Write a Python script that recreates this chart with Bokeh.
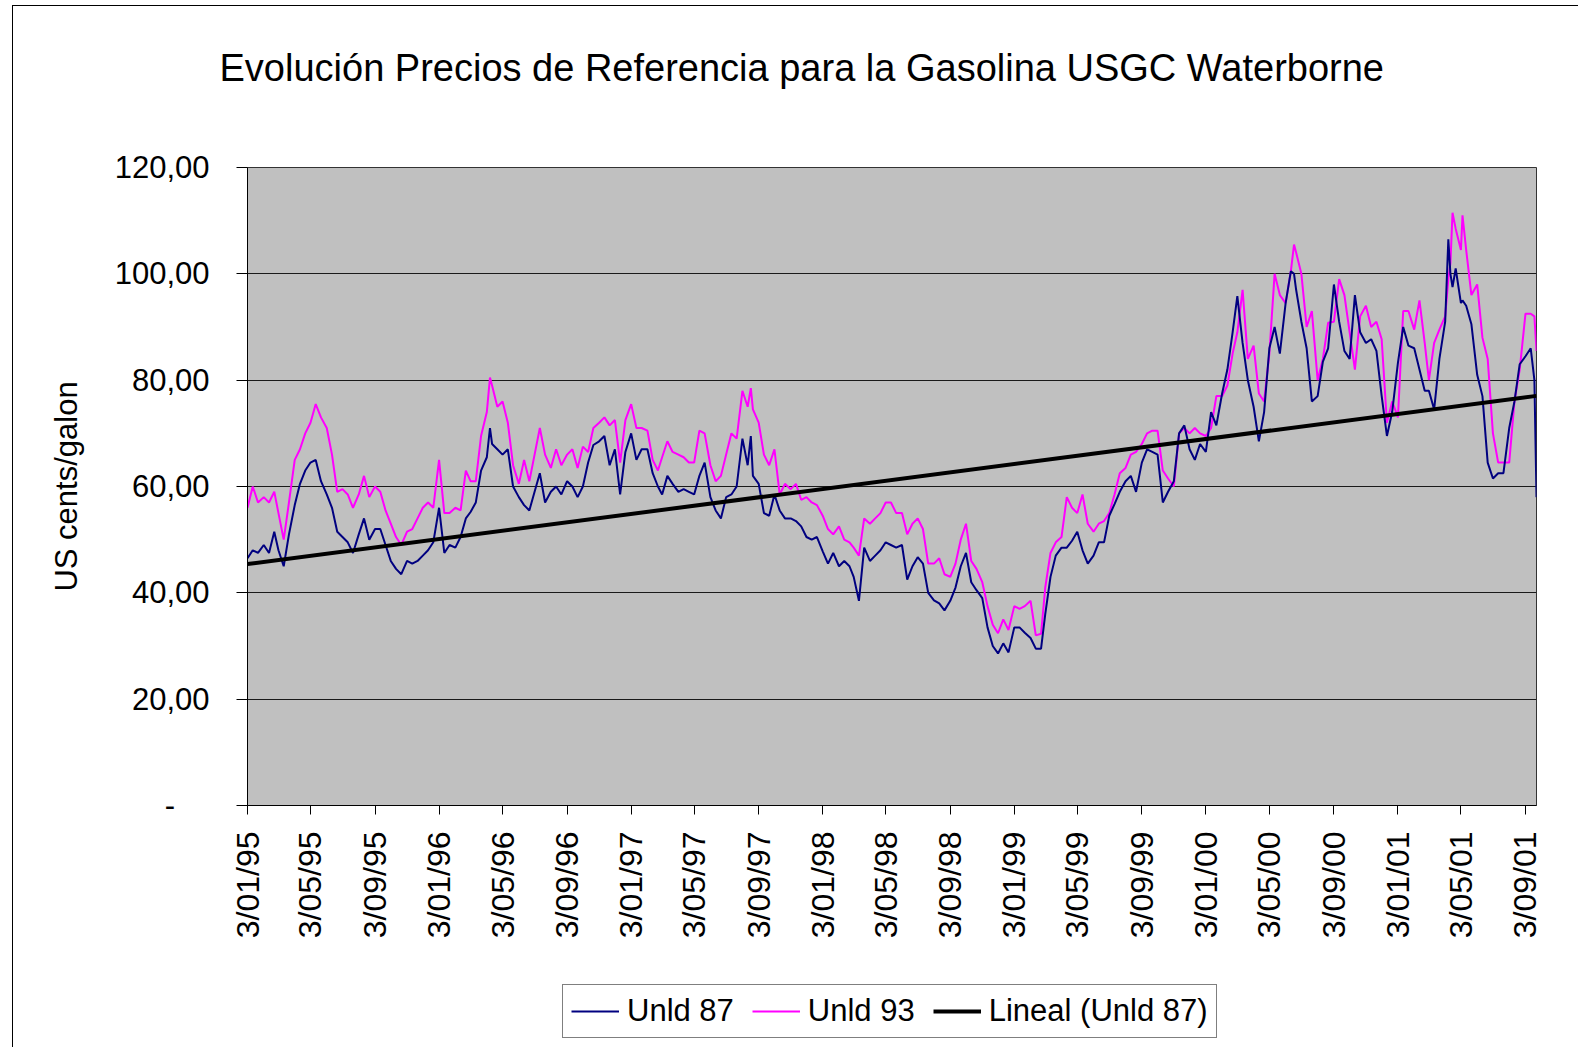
import numpy as np
import pandas as pd
from math import pi
from bokeh.plotting import figure
from bokeh.layouts import column
from bokeh.models import Range1d, FixedTicker, Legend, LegendItem
from bokeh.embed import file_html
from bokeh.resources import INLINE

# ---------------- data ----------------
dates = [
    "1995-01-03", "1995-01-13", "1995-01-23", "1995-02-03", "1995-02-13", "1995-02-23",
    "1995-03-03", "1995-03-13", "1995-03-23", "1995-04-03", "1995-04-13", "1995-04-23",
    "1995-05-03", "1995-05-13", "1995-05-23", "1995-06-03", "1995-06-13", "1995-06-23",
    "1995-07-03", "1995-07-13", "1995-07-23", "1995-08-03", "1995-08-13", "1995-08-23",
    "1995-09-03", "1995-09-13", "1995-09-23", "1995-10-03", "1995-10-13", "1995-10-23",
    "1995-11-03", "1995-11-13", "1995-11-23", "1995-12-03", "1995-12-13", "1995-12-23",
    "1996-01-03", "1996-01-13", "1996-01-23", "1996-02-03", "1996-02-13", "1996-02-23",
    "1996-03-03", "1996-03-13", "1996-03-23", "1996-04-03", "1996-04-09", "1996-04-13",
    "1996-04-23", "1996-05-03", "1996-05-13", "1996-05-23", "1996-06-03", "1996-06-13",
    "1996-06-23", "1996-07-03", "1996-07-13", "1996-07-23", "1996-08-03", "1996-08-13",
    "1996-08-23", "1996-09-03", "1996-09-13", "1996-09-23", "1996-10-03", "1996-10-13",
    "1996-10-23", "1996-11-03", "1996-11-13", "1996-11-23", "1996-12-03", "1996-12-13",
    "1996-12-23",
    "1997-01-03", "1997-01-13", "1997-01-23", "1997-02-03", "1997-02-13", "1997-02-23",
    "1997-03-03", "1997-03-13", "1997-03-23", "1997-04-03", "1997-04-13", "1997-04-23",
    "1997-05-03", "1997-05-13", "1997-05-23", "1997-06-03", "1997-06-13", "1997-06-23",
    "1997-07-03", "1997-07-13", "1997-07-23", "1997-08-03", "1997-08-13", "1997-08-19",
    "1997-08-23", "1997-09-03", "1997-09-13", "1997-09-23", "1997-10-03", "1997-10-13",
    "1997-10-23", "1997-11-03", "1997-11-13", "1997-11-23", "1997-12-03", "1997-12-13",
    "1997-12-23",
    "1998-01-03", "1998-01-13", "1998-01-23", "1998-02-03", "1998-02-13", "1998-02-23",
    "1998-03-03", "1998-03-13", "1998-03-23", "1998-04-03", "1998-04-13", "1998-04-23",
    "1998-05-03", "1998-05-13", "1998-05-23", "1998-06-03", "1998-06-13", "1998-06-23",
    "1998-07-03", "1998-07-13", "1998-07-23", "1998-08-03", "1998-08-13", "1998-08-23",
    "1998-09-03", "1998-09-13", "1998-09-23", "1998-10-03", "1998-10-13", "1998-10-23",
    "1998-11-03", "1998-11-13", "1998-11-23", "1998-12-03", "1998-12-13", "1998-12-23",
    "1999-01-03", "1999-01-13", "1999-01-23", "1999-02-03", "1999-02-13", "1999-02-23",
    "1999-03-03", "1999-03-13", "1999-03-23", "1999-04-03", "1999-04-13", "1999-04-23",
    "1999-05-03", "1999-05-13", "1999-05-23", "1999-06-03", "1999-06-13", "1999-06-23",
    "1999-07-03", "1999-07-13", "1999-07-23", "1999-08-03", "1999-08-13", "1999-08-23",
    "1999-09-03", "1999-09-13", "1999-09-23", "1999-10-03", "1999-10-13", "1999-10-23",
    "1999-11-03", "1999-11-13", "1999-11-23", "1999-12-03", "1999-12-13", "1999-12-23",
    "2000-01-03", "2000-01-13", "2000-01-23", "2000-02-03", "2000-02-13", "2000-02-23",
    "2000-03-03", "2000-03-13", "2000-03-23", "2000-04-03", "2000-04-13", "2000-04-23",
    "2000-05-03", "2000-05-13", "2000-05-23", "2000-06-03", "2000-06-13", "2000-06-19",
    "2000-06-23", "2000-07-03", "2000-07-13", "2000-07-23", "2000-08-03", "2000-08-13",
    "2000-08-23", "2000-09-03", "2000-09-13", "2000-09-23", "2000-10-03", "2000-10-13",
    "2000-10-23", "2000-11-03", "2000-11-13", "2000-11-23", "2000-12-03", "2000-12-13",
    "2000-12-23",
    "2001-01-03", "2001-01-13", "2001-01-23", "2001-02-03", "2001-02-13", "2001-02-23",
    "2001-03-03", "2001-03-13", "2001-03-23", "2001-04-03", "2001-04-09", "2001-04-13",
    "2001-04-17", "2001-04-23", "2001-05-03", "2001-05-06", "2001-05-13", "2001-05-23",
    "2001-06-03", "2001-06-13", "2001-06-23", "2001-07-03", "2001-07-13", "2001-07-23",
    "2001-08-03", "2001-08-13", "2001-08-23", "2001-09-03", "2001-09-13", "2001-09-20",
    "2001-09-24",
]

unld87 = [
    46.5, 48, 47.5, 49, 47.5, 51.5,
    48, 45, 51, 56.5, 60.5, 63,
    64.5, 65, 61, 58.5, 56, 51.5,
    50.5, 49.5, 47.5, 51, 54, 50,
    52, 52, 49, 46, 44.5, 43.5,
    46, 45.5, 46, 47, 48, 49.5,
    56, 47.5, 49, 48.5, 50.5, 54,
    55.2, 57, 63, 65.5, 71, 68,
    67, 66, 67, 60, 58, 56.5,
    55.5, 59, 62.5, 57, 59, 60,
    58.5, 61, 60, 58, 60, 64.5,
    67.8, 68.5, 69.5, 64, 67, 58.5,
    66.5,
    70, 65, 67, 67, 62.5, 60,
    58.5, 62, 60.5, 59, 59.5, 59,
    58.5, 62, 64.5, 58, 55.5, 54,
    58, 58.5, 60, 69, 64, 69.5,
    62, 60.5, 55, 54.5, 58.5, 55.5,
    54, 54, 53.5, 52.5, 50.5, 50,
    50.5,
    47.8, 45.5, 47.5, 45, 46, 45,
    43, 38.5, 48.5, 46, 47, 48,
    49.5, 49, 48.5, 49, 42.5, 45,
    46.7, 45.5, 40, 38.6, 38, 36.7,
    38.5, 41, 45, 47.5, 42, 40.5,
    39, 33.5, 30, 28.6, 30.5, 28.8,
    33.5, 33.5, 32.5, 31.5, 29.5, 29.5,
    36, 43, 47, 48.5, 48.5, 49.8,
    51.5, 48, 45.5, 47, 49.5, 49.5,
    54.5, 56.7, 59, 61, 62, 59,
    64.5, 67, 66.5, 66, 57, 59,
    61, 70, 71.5, 67, 65, 68,
    66.5, 74, 71.5, 77.5, 82, 89,
    95.8, 87, 80, 75, 68.5, 74,
    86, 90, 85, 94.5, 100.5, 100,
    97, 91, 86, 76, 77, 83.5,
    86, 98, 91, 85.5, 84, 96,
    89, 87, 87.7, 85.5, 77, 69.5,
    74,
    83.3, 90, 86.5, 86, 82, 78,
    78, 74.5, 84, 91, 106.5, 100,
    97.5, 101, 94.5, 95, 94, 90.5,
    81, 77, 64.5, 61.5, 62.5, 62.5,
    71, 76, 83, 84.5, 86, 80,
    58,
]

unld93 = [
    56, 60, 57, 58, 57, 59,
    55, 50, 57, 65, 67, 70,
    72, 75.5, 73, 71, 66, 59,
    59.5, 58.5, 56, 58.5, 62, 58,
    60, 59, 55.5, 53, 50.5, 49,
    51.5, 52, 54, 56, 57, 56,
    65, 55, 55, 56, 55.5, 63,
    61, 61, 69.5, 74, 80.5, 79,
    75, 76, 72, 64, 60.5, 65,
    61, 66, 71, 66, 63.5, 67,
    64, 66, 67, 63.5, 67.5, 66.5,
    71, 72, 73, 71.5, 72.5, 64.5,
    72.5,
    75.5, 71, 71, 70.5, 65, 63,
    65.5, 68.5, 66.5, 66, 65.5, 64.5,
    64.5, 70.5, 70, 64, 61, 62,
    66, 70, 69, 78, 75, 78.5,
    74.5, 72, 66, 64, 67, 58.5,
    60.5, 59.5, 60.5, 57.5, 58, 57,
    56.5,
    54.5, 52, 51, 52.5, 50, 49.5,
    48.5, 47, 54, 53, 54, 55,
    57, 57, 55, 55, 51, 53,
    54, 52, 45.5, 45.5, 46.5, 43.5,
    43, 45.5, 50, 53, 46, 44.5,
    42, 37.5, 34, 32.4, 35, 33,
    37.5, 37, 37.5, 38.5, 32, 32.3,
    41, 47.5, 49.5, 50.5, 58, 56,
    55, 58.5, 53, 51.5, 53, 53.5,
    55, 58.5, 62.5, 63.5, 66, 66.5,
    68, 70, 70.5, 70.5, 63, 61.5,
    60, 70, 71, 70, 71, 70,
    69.5, 71, 77, 77, 79, 85,
    89, 97, 84, 86.5, 77.5, 76,
    85, 100, 96, 94.5, 100.5, 105.5,
    104, 100, 90, 93, 80, 84,
    90.8, 91, 99, 96, 89, 82,
    92, 94, 90, 91, 87.7, 72,
    76,
    73, 93, 93, 89.5, 95, 87,
    80, 87, 89.5, 92, 99, 102,
    111.5, 108.5, 104.5, 111, 104.5, 96,
    98, 88, 84, 70, 64.5, 64.5,
    64.5, 76, 82, 92.5, 92.5, 92,
    85.5,
]

x_tick_labels = [
    "3/01/95", "3/05/95", "3/09/95", "3/01/96", "3/05/96", "3/09/96",
    "3/01/97", "3/05/97", "3/09/97", "3/01/98", "3/05/98", "3/09/98",
    "3/01/99", "3/05/99", "3/09/99", "3/01/00", "3/05/00", "3/09/00",
    "3/01/01", "3/05/01", "3/09/01",
]
y_ticks = [0, 20, 40, 60, 80, 100, 120]
y_tick_labels = ["-", "20,00", "40,00", "60,00", "80,00", "100,00", "120,00"]

title_text = "Evolución Precios de Referencia para la Gasolina USGC Waterborne"
y_axis_label = "US cents/galon"
series_names = ["Unld 87", "Unld 93", "Lineal (Unld 87)"]
series_colors = ["#000080", "#FF00FF", "black"]
series_widths = [2, 2, 4]

# ---------------- derived ----------------
epoch = pd.Timestamp("1970-01-01")
dt = pd.to_datetime(dates)
x_ms = ((dt - epoch) // pd.Timedelta(milliseconds=1)).astype(float).to_numpy()
tick_dt = pd.to_datetime(x_tick_labels, format="%d/%m/%y")
tick_ms = [int((t - epoch) // pd.Timedelta(milliseconds=1)) for t in tick_dt]

# linear trend (Excel "Lineal") of Unld 87
x_days = (x_ms - x_ms[0]) / 86400000.0
slope, intercept = np.polyfit(x_days, np.array(unld87), 1)
trend_x = [x_ms[0], x_ms[-1]]
trend_y = [intercept, intercept + slope * x_days[-1]]

FONT = "Liberation Sans"

# ---------------- main chart ----------------
p = figure(
    width=1566, height=940,
    x_axis_type="datetime",
    x_range=Range1d(x_ms[0], x_ms[-1]),
    y_range=Range1d(0, 120),
    output_backend="svg", toolbar_location=None,
    min_border_left=234, min_border_right=43,
    min_border_top=161, min_border_bottom=141,
    background_fill_color="#C0C0C0",
    border_fill_color="white",
)
p.margin = (5, 0, 0, 12)
p.styles = {"border-left": "1px solid black", "border-top": "1px solid black"}

p.outline_line_color = "#333333"
p.outline_line_width = 1

# title (a trailing empty line lifts the visible line away from the frame)
p.title.text = title_text + "\n"
p.title.align = "left"
p.title.vertical_align = "bottom"
p.title.offset = -28
p.title.standoff = 73
p.title.text_font = FONT
p.title.text_font_size = "38px"
p.title.text_font_style = "normal"
p.title.text_color = "black"

# grid
p.xgrid.grid_line_color = None
p.ygrid.grid_line_color = "#1a1a1a"
p.ygrid.grid_line_width = 1
p.ygrid.ticker = FixedTicker(ticks=y_ticks)

# y axis
ya = p.yaxis[0]
ya.ticker = FixedTicker(ticks=y_ticks)
ya.major_label_overrides = {
    t: (lab if lab != "-" else lab + "\u00a0" * 4) for t, lab in zip(y_ticks, y_tick_labels)
}
ya.axis_label = y_axis_label
ya.axis_label_text_font = FONT
ya.axis_label_text_font_size = "31px"
ya.axis_label_text_font_style = "normal"
ya.axis_label_text_color = "black"
ya.axis_label_standoff = 28
ya.major_label_text_font = FONT
ya.major_label_text_font_size = "31px"
ya.major_label_text_color = "black"
ya.major_label_standoff = 27
ya.major_tick_out = 11
ya.major_tick_in = 0
ya.minor_tick_out = 0
ya.minor_tick_in = 0
ya.axis_line_color = "black"
ya.major_tick_line_color = "black"

# x axis
xa = p.xaxis[0]
xa.ticker = FixedTicker(ticks=tick_ms)
xa.major_label_overrides = {t: lab for t, lab in zip(tick_ms, x_tick_labels)}
xa.major_label_orientation = pi / 2
xa.major_label_text_font = FONT
xa.major_label_text_font_size = "32px"
xa.major_label_text_color = "black"
xa.major_label_standoff = 17
xa.major_tick_out = 9
xa.major_tick_in = 0
xa.minor_tick_out = 0
xa.minor_tick_in = 0
xa.axis_line_color = "black"
xa.major_tick_line_color = "black"

# series
p.line(x_ms, unld93, line_color=series_colors[1], line_width=series_widths[1])
p.line(x_ms, unld87, line_color=series_colors[0], line_width=series_widths[0])
p.line(trend_x, trend_y, line_color=series_colors[2], line_width=series_widths[2])

# ---------------- legend strip (below the chart) ----------------
q = figure(
    width=1566, height=102,
    x_range=Range1d(0, 1), y_range=Range1d(0, 1),
    x_axis_location=None, y_axis_location=None,
    output_backend="svg", toolbar_location=None,
    min_border=0, min_border_left=0, min_border_right=0,
    min_border_top=0, min_border_bottom=0,
    background_fill_color="white", border_fill_color="white",
    outline_line_color=None, title=None,
)
q.margin = (0, 0, 0, 12)
q.styles = {"border-left": "1px solid black"}
q.xgrid.visible = False
q.ygrid.visible = False

# proxy lines for the legend keys (their points lie outside the strip's ranges)
legend_renderers = [
    q.line([5, 6], [5, 6], line_color=c, line_width=w) for c, w in zip(series_colors, series_widths)
]
legend = Legend(
    items=[LegendItem(label=n, renderers=[r]) for n, r in zip(series_names, legend_renderers)],
    orientation="horizontal",
    location=(315, 9),
    glyph_width=48, glyph_height=20,
    label_standoff=8, spacing=18, padding=8, margin=0,
    label_text_font=FONT, label_text_font_size="31px", label_text_color="black",
    border_line_color="black", border_line_width=1,
    background_fill_color="white", background_fill_alpha=1.0,
)
q.add_layout(legend, "center")

layout = column(p, q, spacing=0)
open("out.html", "w").write(file_html(layout, INLINE))
